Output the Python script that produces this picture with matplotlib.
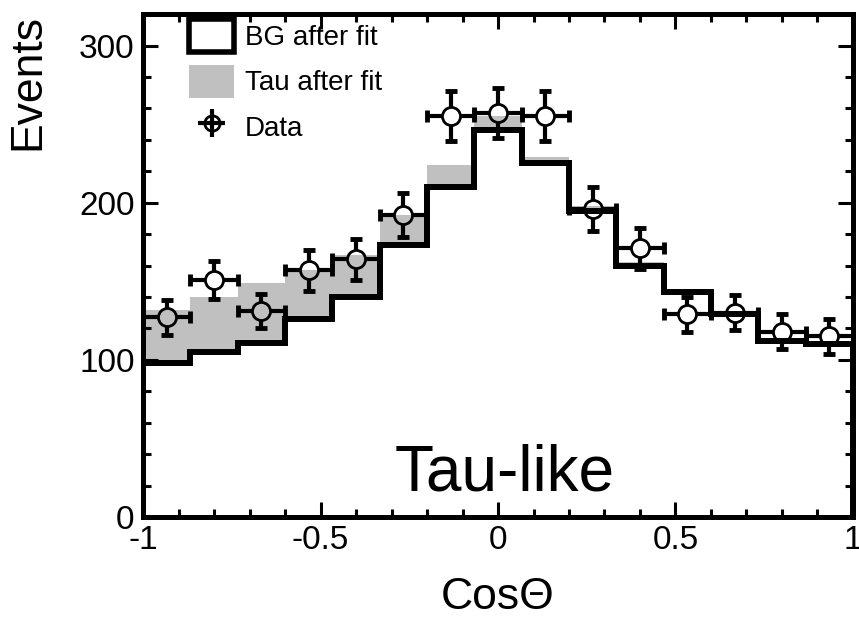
import matplotlib
matplotlib.use("Agg")
import matplotlib.pyplot as plt
import numpy as np
from matplotlib.patches import Patch
from matplotlib.ticker import MultipleLocator

plt.rcParams['font.family'] = ['Liberation Sans', 'DejaVu Sans']

# 15 bins in cos(theta)
edges = np.linspace(-1, 1, 16)
centers = 0.5 * (edges[:-1] + edges[1:])
half_w = 0.5 * (edges[1] - edges[0])

# background after fit
bg = [98, 105, 111, 126, 140, 173, 210, 246, 225, 195, 160, 143, 129, 112, 110]
# tau component after fit (stacked on bg)
tau = [34, 35, 38, 31, 27, 19, 14, 9, 4, 3, 2, 2, 1, 1, 1]
# data and errors
data = [127, 151, 131, 157, 164, 192, 255, 257, 255, 196, 171, 129, 130, 118, 115]
err = [11, 12, 11, 13, 13, 14, 16, 16, 16, 14, 13, 11, 11, 11, 11]

bg = np.array(bg, dtype=float)
total = bg + np.array(tau)
data = np.array(data, dtype=float)
err = np.array(err, dtype=float)

fig = plt.figure(figsize=(8.59, 6.17), dpi=100)
ax = fig.add_axes([0.1665, 0.162, 0.8265, 0.815])
ax.set_xlim(-1, 1)
ax.set_ylim(0, 320)

grey = '#c0c0c0'
ax.stairs(total, edges, baseline=bg, fill=True, color=grey, lw=0, zorder=1)
ax.stairs(bg, edges, baseline=0, color='black', lw=4.3, zorder=2)

# error bars that stop at the marker edge (hollow markers)
r_px = 9.0
ax_w = 0.8265 * 859
ax_h = 0.815 * 617
dx = r_px * 2.0 / ax_w
dy = r_px * 320.0 / ax_h
lw_e = 3.0
ax.vlines(centers, data + dy, data + err, color='black', lw=lw_e, zorder=3)
ax.vlines(centers, data - err, data - dy, color='black', lw=lw_e, zorder=3)
ax.hlines(data, centers - half_w, centers - dx, color='black', lw=lw_e, zorder=3)
ax.hlines(data, centers + dx, centers + half_w, color='black', lw=lw_e, zorder=3)
ax.plot(centers, data + err, ls='none', marker='_', ms=8, mew=3.5, color='black', zorder=3)
ax.plot(centers, data - err, ls='none', marker='_', ms=8, mew=3.5, color='black', zorder=3)
ax.plot(centers - half_w, data, ls='none', marker='|', ms=8, mew=3.5, color='black', zorder=3)
ax.plot(centers + half_w, data, ls='none', marker='|', ms=8, mew=3.5, color='black', zorder=3)
ax.plot(centers, data, ls='none', marker='o', ms=13, mfc='none', mec='black', mew=2, zorder=4)

# legend handles
h_bg = Patch(facecolor='white', edgecolor='black', lw=4, label='BG after fit')
h_tau = Patch(facecolor=grey, edgecolor='none', label='Tau after fit')
h_data = ax.errorbar([np.nan], [np.nan], xerr=[1], yerr=[1], fmt='o', ms=11,
                     mfc='none', mec='black', mew=2, color='black', elinewidth=3,
                     capsize=0, label='Data')
ax.legend(handles=[h_bg, h_tau, h_data], loc='upper left', bbox_to_anchor=(0.03, 1.04),
          frameon=False, fontsize=20, handlelength=1.6, handleheight=1.45,
          labelspacing=0.45, handletextpad=0.4)

ax.text(0.02, 17, 'Tau-like', ha='center', va='baseline', fontsize=46)

ax.set_xticks([-1, -0.5, 0, 0.5, 1])
ax.set_xticklabels(['-1', '-0.5', '0', '0.5', '1'])
ax.set_yticks([0, 100, 200, 300])
ax.xaxis.set_minor_locator(MultipleLocator(0.1))
ax.yaxis.set_minor_locator(MultipleLocator(20))
ax.tick_params(which='both', direction='in', top=True, right=True, width=2.2,
               labelsize=24, pad=6)
ax.tick_params(which='major', length=11)
ax.tick_params(which='minor', length=6)
for s in ax.spines.values():
    s.set_linewidth(3.6)

ax.set_xlabel('Cos\u0398', fontsize=32, labelpad=15)
ax.set_ylabel('Events', fontsize=32, loc='top', labelpad=22)

fig.savefig('out.png', dpi=100)
